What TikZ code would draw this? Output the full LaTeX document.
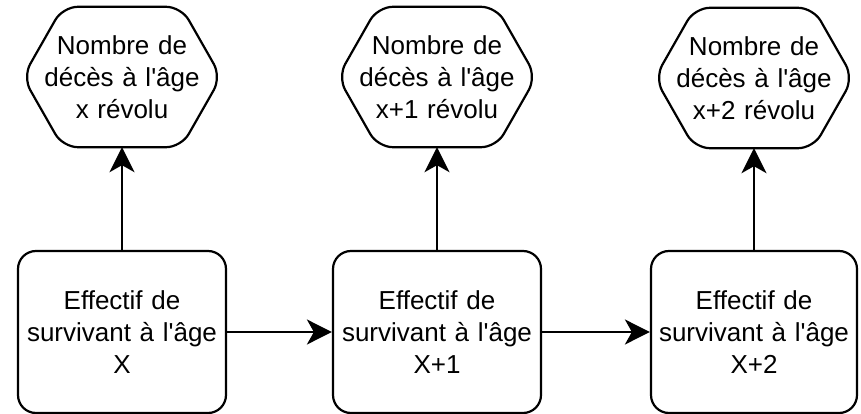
\documentclass[tikz,border=0pt]{standalone}
\usepackage{fontspec}
\setmainfont{Liberation Sans}
\usetikzlibrary{arrows.meta}
\newcommand{\apo}{\textquotesingle}
\begin{document}
\begin{tikzpicture}[x=1pt,y=-1pt,
  lbl/.style={font=\fontsize{26}{32}\selectfont, align=center, inner sep=0pt},
  survbox/.style={lbl, text width=200pt, draw, line width=2.2pt, rounded corners=18pt, minimum width=208pt, minimum height=162pt},
  deces/.style={lbl, text width=190pt, minimum width=198pt, minimum height=140pt},
  hexline/.style={draw, line width=2.2pt, rounded corners=15pt},
  conn/.style={line width=2.2pt, -{Stealth[length=25pt,width=25pt,inset=7pt]}}]
\useasboundingbox (0,0) rectangle (861,414);

\node[survbox] (b1) at (122,332) {Effectif de\\survivant à l\apo âge\\X};
\node[survbox] (b2) at (437,332) {Effectif de\\survivant à l\apo âge\\X+1};
\node[survbox, minimum width=206pt] (b3) at (754,332) {Effectif de\\survivant à l\apo âge\\X+2};

\node[deces] (h1) at (122,77) {Nombre de\\décès à l\apo âge\\x révolu};
\node[deces] (h2) at (437,77) {Nombre de\\décès à l\apo âge\\x+1 révolu};
\node[deces] (h3) at (754,78) {Nombre de\\décès à l\apo âge\\x+2 révolu};

\foreach \n in {h1,h2,h3}
  \draw[hexline] ([xshift=40pt]\n.north west) -- ([xshift=-40pt]\n.north east) -- (\n.east)
    -- ([xshift=-40pt]\n.south east) -- ([xshift=40pt]\n.south west) -- (\n.west) -- cycle;

\draw[conn] (b1) -- (b2);
\draw[conn] (b2) -- (b3);
\draw[conn] (b1) -- (h1);
\draw[conn] (b2) -- (h2);
\draw[conn] (b3) -- (h3);
\end{tikzpicture}
\end{document}
